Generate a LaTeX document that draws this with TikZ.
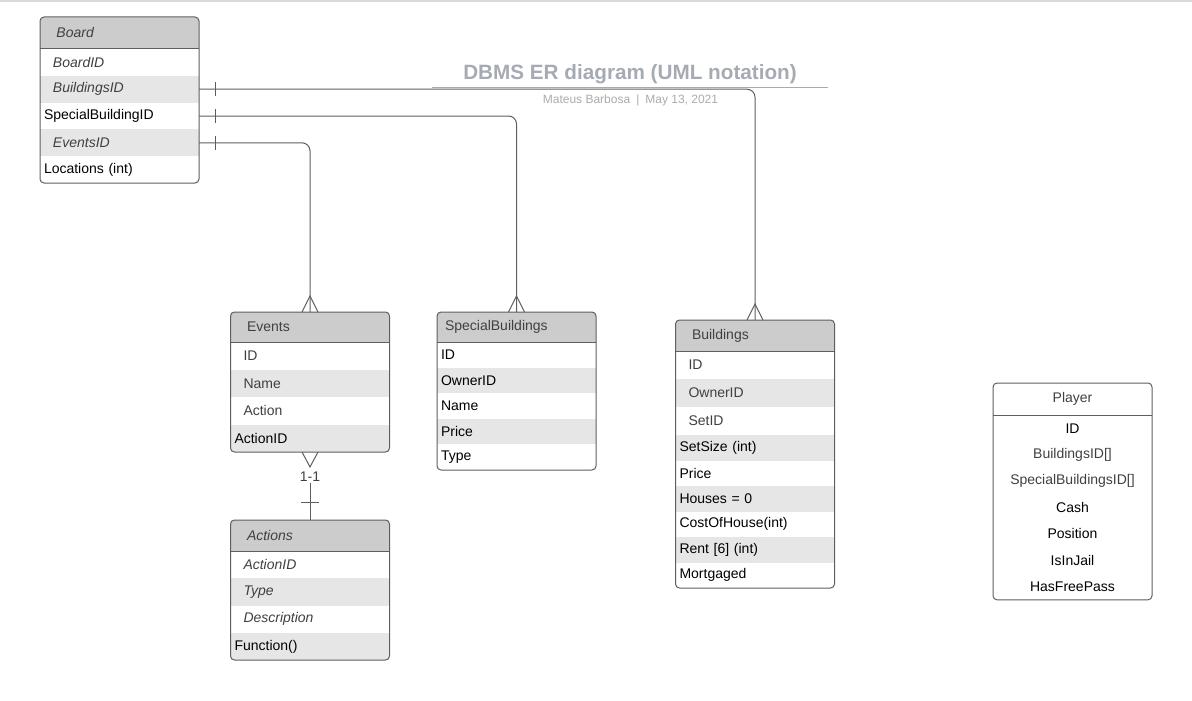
\documentclass[tikz,border=0pt]{standalone}
\usepackage{fontspec}
\setmainfont{Liberation Sans}
\usepackage{xcolor}
\usetikzlibrary{positioning}
\setlength{\parindent}{0pt}

\definecolor{hdrgray}{HTML}{CCCCCC}
\definecolor{rowgray}{HTML}{E6E6E6}
\definecolor{linegray}{HTML}{5E5E5E}
\definecolor{txtgray}{HTML}{404040}
\definecolor{titlegray}{HTML}{A6ABB3}
\definecolor{subgray}{HTML}{ABABAB}
\definecolor{topgray}{HTML}{D9D9D9}

\begin{document}
\begin{tikzpicture}[x=1pt,y=-1pt,
    cell/.style={inner xsep=4pt,inner ysep=0pt,outer sep=0pt,text width=151pt,align=left,
                 font=\fontsize{14}{16}\selectfont,anchor=north},
    head/.style={cell,fill=hdrgray,text=txtgray,execute at begin node=\hspace*{#1}},
    head/.default=12.5pt,
    light/.style={cell,fill=white},
    dark/.style={cell,fill=rowgray},
    ital/.style={font=\fontsize{14}{16}\selectfont\itshape,text=txtgray,
                 execute at begin node=\hspace*{9pt}},
    indent/.style={text=txtgray,execute at begin node=\hspace*{9pt}},
    pcell/.style={cell,align=center},
    box/.style={draw=linegray,line width=1pt,rounded corners=4},
    conn/.style={draw=linegray,line width=1pt},
    elbow/.style={to path={-| (\tikztotarget)}},
    lbl/.style={fill=white,inner sep=1pt,text=txtgray,font=\fontsize{14}{16}\selectfont}]

      \useasboundingbox (0,0) rectangle (1192,701);
      \fill[topgray] (0,0) rectangle (1192,2.5);

      \node[font=\fontsize{20.7}{24}\selectfont\bfseries,text=titlegray] (title) at (630,74) {DBMS ER diagram (UML notation)};
      \draw[titlegray,line width=1.2pt] (432,87.5) -- (828,87.5);
      \node[font=\fontsize{12}{14}\selectfont,text=subgray] (author) at (630.5,100) {Mateus Barbosa\enspace|\enspace May 13, 2021};

      \begin{scope}
      \clip[rounded corners=4] (40,17) rectangle (199,183);
      \node[head, minimum height=32] (board) at (119.5,17) {\itshape Board};
      \node[light, ital, minimum height=26.8, below=0pt of board] (bid) {BoardID};
      \node[dark, ital, minimum height=26.8, below=0pt of bid] (bbld) {BuildingsID};
      \node[light, minimum height=26.8, below=0pt of bbld] (bspc) {SpecialBuildingID};
      \node[dark, ital, minimum height=26.8, below=0pt of bspc] (bevt) {EventsID};
      \node[light, minimum height=26.8, below=0pt of bevt] (bloc) {Locations (int)};
      \end{scope}
      \draw[box] (board.north west) rectangle (bloc.south east);
      \draw[conn] (board.south west) -- (board.south east);

      \begin{scope}
      \clip[rounded corners=4] (231,312) rectangle (389,452);
      \node[head, minimum height=30] (ev) at (310,312) {Events};
      \node[light, indent, minimum height=27.5, below=0pt of ev] (evid) {ID};
      \node[dark, indent, minimum height=27.5, below=0pt of evid] (evnm) {Name};
      \node[light, indent, minimum height=27.5, below=0pt of evnm] (evac) {Action};
      \node[dark, minimum height=27.5, below=0pt of evac] (evaid) {ActionID};
      \end{scope}
      \draw[box] (ev.north west) rectangle (evaid.south east);
      \draw[conn] (ev.south west) -- (ev.south east);

      \begin{scope}
      \clip[rounded corners=4] (231,520) rectangle (389,660);
      \node[head, minimum height=31] (act) at (310,520) {\itshape Actions};
      \node[light, ital, minimum height=27.25, below=0pt of act] (acid) {ActionID};
      \node[dark, ital, minimum height=27.25, below=0pt of acid] (actp) {Type};
      \node[light, ital, minimum height=27.25, below=0pt of actp] (acds) {Description};
      \node[dark, minimum height=27.25, below=0pt of acds] (acfn) {Function()};
      \end{scope}
      \draw[box] (act.north west) rectangle (acfn.south east);
      \draw[conn] (act.south west) -- (act.south east);

      \begin{scope}
      \clip[rounded corners=4] (437,312) rectangle (596,470);
      \node[head=4pt, minimum height=30] (spc) at (516.5,312) {SpecialBuildings};
      \node[light, minimum height=25.6, below=0pt of spc] (spid) {ID};
      \node[dark, minimum height=25.6, below=0pt of spid] (spow) {OwnerID};
      \node[light, minimum height=25.6, below=0pt of spow] (spnm) {Name};
      \node[dark, minimum height=25.6, below=0pt of spnm] (sppr) {Price};
      \node[light, minimum height=25.6, below=0pt of sppr] (sptp) {Type};
      \end{scope}
      \draw[box] (spc.north west) rectangle (sptp.south east);
      \draw[conn] (spc.south west) -- (spc.south east);

      \begin{scope}
      \clip[rounded corners=4] (676,320) rectangle (834,588);
      \node[head, minimum height=31] (bld) at (755,320) {Buildings};
      \node[light, indent, minimum height=28, below=0pt of bld] (bdid) {ID};
      \node[dark, indent, minimum height=28, below=0pt of bdid] (bdow) {OwnerID};
      \node[light, indent, minimum height=28, below=0pt of bdow] (bdset) {SetID};
      \node[dark, minimum height=25.5, below=0pt of bdset] (bdsz) {SetSize (int)};
      \node[light, minimum height=25.5, below=0pt of bdsz] (bdpr) {Price};
      \node[dark, minimum height=25.5, below=0pt of bdpr] (bdhs) {Houses = 0};
      \node[light, minimum height=25.5, below=0pt of bdhs] (bdcost) {CostOfHouse(int)};
      \node[dark, minimum height=25.5, below=0pt of bdcost] (bdrent) {Rent [6] (int)};
      \node[light, minimum height=25.5, below=0pt of bdrent] (bdmort) {Mortgaged};
      \end{scope}
      \draw[box] (bld.north west) rectangle (bdmort.south east);
      \draw[conn] (bld.south west) -- (bld.south east);

      \node[pcell, text=txtgray, minimum height=32] (ply) at (1072.5,383) {Player};
      \node[pcell, minimum height=26.4, below=0pt of ply] (plid) {ID};
      \node[pcell, text=txtgray, minimum height=26.4, below=0pt of plid] (plbld) {BuildingsID[]};
      \node[pcell, text=txtgray, minimum height=26.4, below=0pt of plbld] (plspc) {SpecialBuildingsID[]};
      \node[pcell, minimum height=26.4, below=0pt of plspc] (plcash) {Cash};
      \node[pcell, minimum height=26.4, below=0pt of plcash] (plpos) {Position};
      \node[pcell, minimum height=26.4, below=0pt of plpos] (pljail) {IsInJail};
      \node[pcell, minimum height=26.4, below=0pt of pljail] (plpass) {HasFreePass};
      \draw[box] (ply.north west) rectangle (plpass.south east);
      \draw[conn] (ply.south west) -- (ply.south east);

      \path[conn, rounded corners=8]
	(bbld.east) edge[elbow] (bld.north)
	(bspc.east) edge[elbow] (spc.north)
	(bevt.east) edge[elbow] (ev.north);

      \draw[conn] ([xshift=16pt]bbld.east) ++(0,-7) -- ++(0,14);
      \draw[conn] ([xshift=16pt]bspc.east) ++(0,-7) -- ++(0,14);
      \draw[conn] ([xshift=16pt]bevt.east) ++(0,-7) -- ++(0,14);

      \draw[conn] ([xshift=-8pt]ev.north) -- ++(8,-16) -- ++(8,16);
      \draw[conn] ([xshift=-8pt]spc.north) -- ++(8,-16) -- ++(8,16);
      \draw[conn] ([xshift=-8pt]bld.north) -- ++(8,-16) -- ++(8,16);

      \draw[conn] ([xshift=-8pt]evaid.south) -- ++(8,15) -- ++(8,-15);
      \node[lbl] (card) at (310,477) {1-1};
      \draw[conn] (card) -- (act.north);
      \draw[conn] ([yshift=18pt]act.north) ++(-9,0) -- ++(18,0);

    \end{tikzpicture}
\end{document}
